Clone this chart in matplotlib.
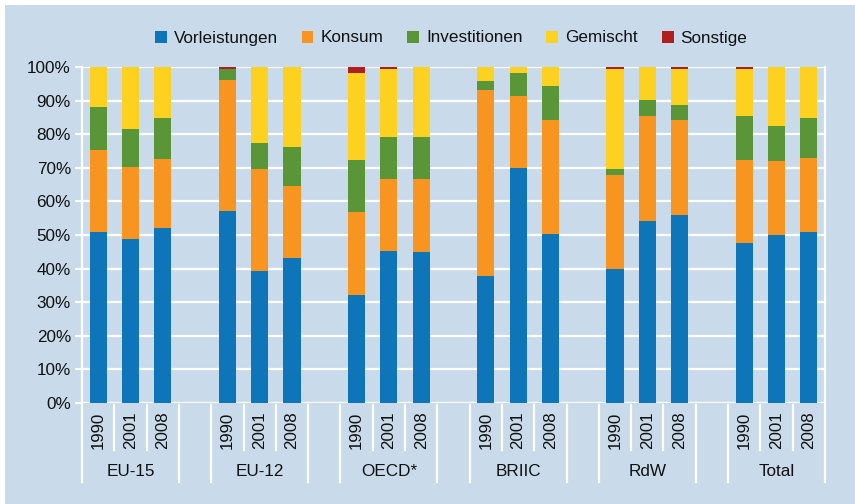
import matplotlib
matplotlib.use("Agg")
import matplotlib.pyplot as plt
from matplotlib.patches import Rectangle
from matplotlib.lines import Line2D
import numpy as np

plt.rcParams['font.family'] = ['Liberation Sans', 'DejaVu Sans']

groups = ['EU-15', 'EU-12', 'OECD*', 'BRIIC', 'RdW', 'Total']
years = ['1990', '2001', '2008']
series_names = ['Vorleistungen', 'Konsum', 'Investitionen', 'Gemischt', 'Sonstige']

vorleistungen = [51.0, 48.7, 52.2, 57.2, 39.4, 43.3, 32.1, 45.3, 44.8,
                 37.8, 70.0, 50.4, 39.9, 54.3, 56.1, 47.6, 49.9, 50.9]
konsum = [24.3, 21.4, 20.3, 38.8, 30.1, 21.2, 24.6, 21.5, 22.0,
          55.4, 21.5, 33.9, 28.0, 31.0, 28.2, 24.8, 22.0, 22.1]
investitionen = [12.7, 11.3, 12.3, 3.3, 7.9, 11.8, 15.7, 12.3, 12.3,
                 2.7, 6.7, 10.0, 1.6, 5.0, 4.3, 13.0, 10.6, 11.8]
gemischt = [12.0, 18.6, 15.2, 0.0, 22.6, 23.7, 25.9, 20.3, 20.9,
            4.1, 1.8, 5.7, 29.9, 9.7, 10.8, 14.0, 17.5, 15.2]
sonstige = [0.0, 0.0, 0.0, 0.7, 0.0, 0.0, 1.7, 0.6, 0.0,
            0.0, 0.0, 0.0, 0.6, 0.0, 0.6, 0.6, 0.0, 0.0]

colors = ['#0e75b8', '#f79520', '#5a9637', '#fdd11f', '#b01f1f']
bg = '#c9dbea'
txt = '#111111'

W, H = 855, 504
fig = plt.figure(figsize=(W / 100, H / 100), dpi=100)
fig.patch.set_facecolor('white')
fig.add_artist(Rectangle((5 / W, 0), 1 - 5 / W, 1 - 5 / H, transform=fig.transFigure,
                         facecolor=bg, edgecolor='none', zorder=0))

left, right, top, bottom = 82, 825, 67, 403
ax = fig.add_axes([left / W, 1 - bottom / H, (right - left) / W, (bottom - top) / H])
ax.set_facecolor(bg)
ax.patch.set_alpha(0)

n_groups = len(groups)
xpos = np.array([g * 4 + j for g in range(n_groups) for j in range(len(years))], dtype=float)

data = [vorleistungen, konsum, investitionen, gemischt, sonstige]
base = np.zeros(len(xpos))
for vals, c, name in zip(data, colors, series_names):
    v = np.array(vals)
    ax.bar(xpos, v, width=0.53, bottom=base, color=c, edgecolor='none', zorder=3, label=name)
    base += v

ax.set_xlim(-0.5, n_groups * 4 - 1.5)
ax.set_ylim(0, 100)
yt = np.arange(0, 101, 10)
ax.set_yticks(yt)
ax.set_yticklabels([f'{t}%' for t in yt], fontsize=12.3, color=txt)
for t in yt:
    ax.axhline(t, color='white', lw=1.6, zorder=1)
ax.tick_params(axis='y', length=5, width=1.5, color='white', pad=3)
ax.set_xticks([])
for s in ['top', 'bottom']:
    ax.spines[s].set_visible(False)
for s in ['left', 'right']:
    ax.spines[s].set_color('white')
    ax.spines[s].set_linewidth(1.6)

# Category axis below the plot
tr = ax.get_xaxis_transform()
y_year_bot = -47 / 336
y_grp_bot = -79 / 336
y_start = -2 / 336
for g in range(n_groups):
    g0 = g * 4 - 0.5
    g1 = g * 4 + 2.5
    for xb in (g0, g1):
        ax.add_line(Line2D([xb, xb], [y_start, y_grp_bot], transform=tr, color='white',
                           lw=1.6, clip_on=False))
    for xb in (g * 4 + 0.5, g * 4 + 1.5):
        ax.add_line(Line2D([xb, xb], [y_start, y_year_bot], transform=tr, color='white',
                           lw=1.6, clip_on=False))
    for j, yr in enumerate(years):
        ax.text(g * 4 + j, -27 / 336, yr, transform=tr, rotation=90, ha='center', va='center',
                fontsize=12.2, color=txt)
    ax.text(g * 4 + 1, -68 / 336, groups[g], transform=tr, ha='center', va='center',
            fontsize=12.3, color=txt)

handles = [Rectangle((0, 0), 1, 1, facecolor=c, edgecolor='none') for c in colors]
fig.legend(handles, series_names, loc='center', bbox_to_anchor=(451 / W, 1 - 38 / H),
           ncol=5, frameon=False, fontsize=12.3, handlelength=0.7, handleheight=0.7,
           handletextpad=0.4, columnspacing=1.4, labelcolor=txt)

fig.savefig('out.png', dpi=100)
